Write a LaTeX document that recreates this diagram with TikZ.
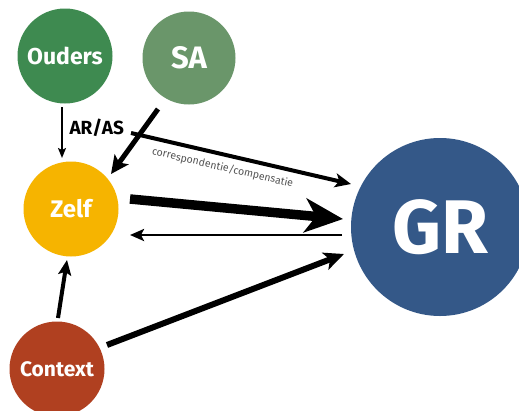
\documentclass[tikz,border=0pt]{standalone}
\usepackage{fontspec}
\setmainfont{Fira Sans}
\usetikzlibrary{arrows.meta}
\definecolor{cOuders}{RGB}{62,138,80}
\definecolor{cSA}{RGB}{106,150,106}
\definecolor{cZelf}{RGB}{246,180,0}
\definecolor{cContext}{RGB}{176,64,32}
\definecolor{cGR}{RGB}{52,88,136}
\definecolor{cLabel}{RGB}{85,85,85}
\tikzset{
  bubble/.style={circle, inner sep=0pt, text=white, font=\bfseries},
  conn/.style={draw=black, line cap=butt},
}
\begin{document}
\begin{tikzpicture}[x=1pt,y=-1pt]
\useasboundingbox[fill=white] (0,0) rectangle (519,410);
\node[bubble, fill=cOuders, minimum size=95pt, font=\bfseries\fontsize{23}{26}\selectfont] (Ouders) at (65,56) {Ouders};
\node[bubble, fill=cSA, minimum size=93pt, font=\bfseries\fontsize{31}{34}\selectfont] (SA) at (189,58) {SA};
\node[bubble, fill=cZelf, minimum size=95pt, font=\bfseries\fontsize{24}{27}\selectfont] (Zelf) at (71,209) {Zelf};
\node[bubble, fill=cContext, minimum size=95pt, font=\bfseries\fontsize{21}{24}\selectfont] (Context) at (57,369) {Context};
\node[bubble, fill=cGR, minimum size=178pt, font=\bfseries\fontsize{76}{80}\selectfont] (GR) at (440,227) {GR};

% endpoints
\coordinate (o1) at (62,107);  \coordinate (o2) at (62,158);
\coordinate (s1) at (158,109); \coordinate (s2) at (111,174);
\coordinate (c1) at (131,133); \coordinate (c2) at (351,184);
\coordinate (z1) at (130,199); \coordinate (z2) at (343,219);
\coordinate (g1) at (342,235); \coordinate (g2) at (130,235);
\coordinate (x1) at (58,318);  \coordinate (x2) at (67,260);
\coordinate (y1) at (107,345); \coordinate (y2) at (344,254);

\draw[conn, line width=1.6pt, -{Stealth[length=10pt,width=8pt,inset=2pt]}] (o1) -- (o2);
\node[font=\bfseries\fontsize{19}{21}\selectfont, anchor=west] (arlabel) at (66,128) {AR/AS};
\draw[conn, line width=5pt, -{Stealth[length=18pt,width=17pt,inset=4pt]}] (s1) -- (s2);
\draw[conn, line width=4pt, -{Stealth[length=16pt,width=14pt,inset=4pt]}] (c1) -- (c2)
  node[pos=0.43, sloped, below=2.5pt, text=cLabel, font=\fontsize{10.5}{12}\selectfont] (corr) {correspondentie/compensatie};
\draw[conn, line width=9.5pt, -{Stealth[length=38pt,width=34pt,inset=11pt]}] (z1) -- (z2);
\draw[conn, line width=2.6pt, -{Stealth[length=14pt,width=12pt,inset=3pt]}] (g1) -- (g2);
\draw[conn, line width=4pt, -{Stealth[length=15pt,width=13pt,inset=3pt]}] (x1) -- (x2);
\draw[conn, line width=6pt, -{Stealth[length=20pt,width=18pt,inset=5pt]}] (y1) -- (y2);
\end{tikzpicture}
\end{document}
